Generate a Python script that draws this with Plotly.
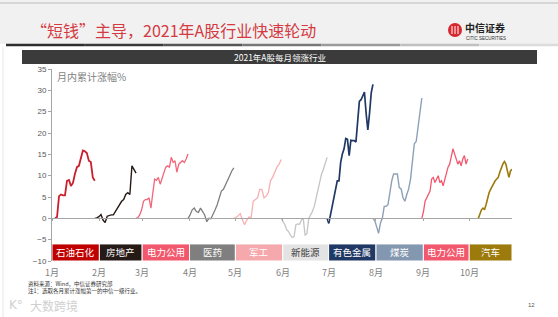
import plotly.graph_objects as go
import pandas as pd

# ---------------- data ----------------
months = ["2021-01-01", "2021-02-01", "2021-03-01", "2021-04-01", "2021-05-01",
          "2021-06-01", "2021-07-01", "2021-08-01", "2021-09-01", "2021-10-01", "2021-10-29"]
month_labels = ["1月", "2月", "3月", "4月", "5月", "6月", "7月", "8月", "9月", "10月"]
industries = ["石油石化", "房地产", "电力公用", "医药", "军工", "新能源", "有色金属", "煤炭", "电力公用", "汽车"]
ind_colors = ["#c00000", "#261a17", "#f2586d", "#7f7f7f", "#f6a9ad", "#e3e3e3", "#1f3864", "#8497b0", "#f2586d", "#9c7a0c"]
text_colors = ["white", "white", "white", "white", "white", "#404040", "white", "white", "white", "white"]
line_colors = ["#c8202c", "#261a17", "#f2667a", "#7f7f7f", "#f7b0b3", "#c4c4c4", "#1f3864", "#8ea0b8", "#f2586d", "#9c7a0c"]

starts = ["2021-01-03", "2021-01-29", "2021-02-25", "2021-03-31", "2021-04-30",
          "2021-05-31", "2021-06-30", "2021-07-30", "2021-08-31", "2021-10-07"]
ends = ["2021-01-29", "2021-02-25", "2021-03-31", "2021-04-30", "2021-05-31",
        "2021-06-30", "2021-07-30", "2021-08-31", "2021-09-30", "2021-10-29"]

jan = [0, 0.3, 5.2, 5.6, 5.4, 5.4, 8.8, 9.0, 7.6, 8.3, 10.4, 12.0, 12.3, 14.3, 15.9, 15.7, 15.3, 13.5, 13.2, 9.6, 8.8]
feb = [0, 0.1, 0.4, 0.9, -0.4, -1.0, 0.5, 0.7, 0.8, 0.8, 1.6, 2.4, 3.2, 4.0, 4.4, 5.6, 6.0, 5.6, 12.3, 11.5, 10.6]
mar = [0, 0.2, 0.8, 2.0, 4.0, 4.4, 4.4, 4.8, 2.4, 6.0, 9.2, 8.9, 9.6, 8.0, 9.2, 10.4, 12.0, 12.3, 12.0,
       14.3, 13.1, 13.5, 10.8, 12.7, 13.1, 13.5, 13.1, 13.9, 15.1]
apr = [0, 0.8, 2.0, 2.4, 1.6, 1.4, 2.4, 1.6, 0.8, -0.8, 0.0, -0.1, 0.8, 2.0, 3.2, 4.8, 6.4, 6.8, 8.0, 9.2, 10.0, 11.1, 11.8]
may = [0, 0.2, 0.6, 1.1, -0.4, -1.5, -0.4, 0.3, 0.1, 4.0, 4.4, 4.8, 6.8, 6.8, 4.8, 5.2, 6.0, 8.8, 9.6, 10.8, 12.0, 12.7, 13.8]
jun = [0, -0.8, -1.5, -2.7, -3.1, -3.9, -4.5, -4.3, -1.5, -1.3, -1.4, -0.4, 0.0, -3.9, -3.6, 0.0, 0.8, 1.6,
       2.8, 4.8, 6.4, 8.4, 10.4, 11.5, 13.1, 14.3]
jul = [0, -1.2, 0.8, 3.2, 4.8, 6.8, 8.8, 8.8, 13.1, 15.1, 16.3, 18.7, 18.5, 14.7, 18.3, 18.2, 18.2, 17.9,
       22.3, 27.4, 27.8, 28.6, 29.6, 24.6, 20.7, 24.6, 29.4, 31.4]
aug = [0, -0.6, -2.0, -3.5, -1.1, 0.0, 2.8, 2.8, 3.2, 6.0, 8.8, 10.4, 10.4, 10.4, 7.2, 6.9, 4.8, 4.0, 5.6,
       6.9, 9.2, 13.5, 17.5, 18.0, 21.5, 25.4, 28.2]
sep = [0, 1.6, 4.0, 4.8, 5.6, 6.4, 9.2, 9.6, 8.4, 9.2, 10.0, 8.4, 8.8, 7.6, 9.2, 10.4, 12.0, 12.7, 14.3,
       16.3, 15.1, 13.9, 12.7, 13.5, 12.3, 13.9, 14.7, 12.7, 13.9]
octo = [0, 1.2, 2.0, 2.4, 2.0, 3.2, 4.8, 6.0, 6.8, 7.6, 8.0, 8.8, 9.2, 9.6, 10.8, 12.0, 12.7, 13.3, 12.7,
        11.1, 9.6, 11.1, 11.5]
series = [jan, feb, mar, apr, may, jun, jul, aug, sep, octo]
line_widths = [1.8, 1.4, 1.3, 1.3, 1.3, 1.3, 1.7, 1.4, 1.3, 1.6]

y_ticks = [-10, -5, 0, 5, 10, 15, 20, 25, 30, 35]

# ---------------- figure ----------------
W, H = 558, 317
L, R, T, B = 52, 46, 69, 56
PW, PH = W - L - R, H - T - B


def px(x):
    return (x - L) / PW


def py(y):
    return (H - B - y) / PH


fig = go.Figure()

for vals, s, e, c, lw in zip(series, starts, ends, line_colors, line_widths):
    xs = pd.date_range(s, e, periods=len(vals))
    fig.add_trace(go.Scatter(x=xs, y=vals, mode="lines", line=dict(color=c, width=lw),
                             showlegend=False, hoverinfo="skip"))

shapes = []
annotations = []

# slide header
shapes.append(dict(type="rect", xref="paper", yref="paper", x0=px(0), x1=px(W), y0=py(44), y1=py(0),
                   fillcolor="#f1f1f1", line=dict(width=0), layer="below"))
shapes.append(dict(type="line", xref="paper", yref="paper", x0=px(0), x1=px(W), y0=py(3), y1=py(3),
                   line=dict(color="#d6d6d6", width=2)))
grad = ["#2e2e2e", "#3a3a3a", "#555555", "#777777", "#9a9a9a", "#c0c0c0", "#dcdcdc"]
seg = (W - 6) / len(grad)
for i, gc in enumerate(grad):
    shapes.append(dict(type="line", xref="paper", yref="paper", x0=px(6 + i * seg), x1=px(6 + (i + 1) * seg),
                       y0=py(45), y1=py(45), line=dict(color=gc, width=2.5)))
shapes.append(dict(type="line", xref="paper", yref="paper", x0=px(3), x1=px(3), y0=py(47), y1=py(317),
                   line=dict(color="#e6e6e6", width=1)))

annotations.append(dict(text="“短钱”主导，2021年A股行业快速轮动", xref="paper", yref="paper",
                        x=px(29), y=py(30), xanchor="left", yanchor="middle", showarrow=False,
                        font=dict(family="Noto Sans CJK SC", size=16, color="#d43a42")))

# logo
shapes.append(dict(type="circle", xref="paper", yref="paper", x0=px(448), x1=px(462), y0=py(37), y1=py(23),
                   fillcolor="#d7262e", line=dict(width=0)))
for lx in [452, 455, 458]:
    shapes.append(dict(type="line", xref="paper", yref="paper", x0=px(lx), x1=px(lx), y0=py(34), y1=py(26),
                       line=dict(color="white", width=1)))
annotations.append(dict(text="<b>中信证券</b>", xref="paper", yref="paper", x=px(463), y=py(27),
                        xanchor="left", yanchor="middle", showarrow=False,
                        font=dict(family="Noto Sans CJK SC", size=10, color="#222222")))
annotations.append(dict(text="CITIC SECURITIES", xref="paper", yref="paper", x=px(464), y=py(38),
                        xanchor="left", yanchor="middle", showarrow=False,
                        font=dict(family="Liberation Sans", size=4.5, color="#333333")))

# chart title bar
shapes.append(dict(type="rect", xref="paper", yref="paper", x0=px(22), x1=px(537), y0=py(64), y1=py(50),
                   fillcolor="#3b3b3b", line=dict(width=0), layer="below"))
annotations.append(dict(text="2021年A股每月领涨行业", xref="paper", yref="paper", x=px(280), y=py(57),
                        xanchor="center", yanchor="middle", showarrow=False,
                        font=dict(family="Noto Sans CJK SC", size=8.5, color="white")))

# y axis caption
annotations.append(dict(text="月内累计涨幅%", xref="paper", yref="paper", x=px(55), y=py(76),
                        xanchor="left", yanchor="middle", showarrow=False,
                        font=dict(family="Noto Sans CJK SC", size=10, color="#7f7f7f")))

# industry bands
for i, name in enumerate(industries):
    shapes.append(dict(type="rect", xref="x", yref="y", x0=months[i], x1=months[i + 1], y0=-10, y1=-6,
                       fillcolor=ind_colors[i], line=dict(color="white", width=1), layer="below"))
    mid = pd.Timestamp(months[i]) + (pd.Timestamp(months[i + 1]) - pd.Timestamp(months[i])) / 2
    annotations.append(dict(text=name, xref="x", yref="y", x=mid, y=-8, xanchor="center", yanchor="middle",
                            showarrow=False, font=dict(family="Noto Sans CJK SC", size=9.5, color=text_colors[i])))

# month labels
for m, lab in zip(months[:-1], month_labels):
    annotations.append(dict(text=lab, xref="x", yref="paper", x=m, y=0, yshift=-3, xanchor="center",
                            yanchor="top", showarrow=False,
                            font=dict(family="Noto Sans CJK SC", size=9, color="#7f7f7f")))

# footnotes
annotations.append(dict(text="资料来源：Wind，中信证券研究部", xref="paper", yref="paper", x=px(26), y=py(284),
                        xanchor="left", yanchor="middle", showarrow=False,
                        font=dict(family="Noto Sans CJK SC", size=5.5, color="#333333")))
annotations.append(dict(text="注1：选取各月累计涨幅第一的中信一级行业。", xref="paper", yref="paper", x=px(26),
                        y=py(291), xanchor="left", yanchor="middle", showarrow=False,
                        font=dict(family="Noto Sans CJK SC", size=5.5, color="#333333")))
annotations.append(dict(text="K°", xref="paper", yref="paper", x=px(7), y=py(305),
                        xanchor="left", yanchor="middle", showarrow=False,
                        font=dict(family="DejaVu Sans", size=12, color="#d0d0d0")))
annotations.append(dict(text="大数跨境", xref="paper", yref="paper", x=px(28), y=py(305),
                        xanchor="left", yanchor="middle", showarrow=False,
                        font=dict(family="Noto Sans CJK SC", size=12, color="#d0d0d0")))
annotations.append(dict(text="12", xref="paper", yref="paper", x=px(531), y=py(305),
                        xanchor="center", yanchor="middle", showarrow=False,
                        font=dict(family="Liberation Sans", size=6, color="#555555")))

fig.update_layout(
    width=W, height=H,
    margin=dict(l=L, r=R, t=T, b=B),
    paper_bgcolor="white", plot_bgcolor="rgba(0,0,0,0)",
    shapes=shapes, annotations=annotations,
    xaxis=dict(range=[months[0], months[-1]], anchor="free", position=10 / 45,
               showline=True, linecolor="#a6a6a6", linewidth=1,
               tickmode="array", tickvals=months[:-1], ticktext=[""] * len(month_labels),
               ticks="outside", ticklen=2, tickcolor="#a6a6a6", showgrid=False, zeroline=False),
    yaxis=dict(range=[-10, 35], tickvals=y_ticks, showline=True, linecolor="#a6a6a6", linewidth=1,
               ticks="outside", ticklen=3, tickcolor="#a6a6a6", showgrid=False, zeroline=False,
               tickfont=dict(family="Liberation Sans", size=8, color="#595959")),
)

fig.write_html("out.html")
